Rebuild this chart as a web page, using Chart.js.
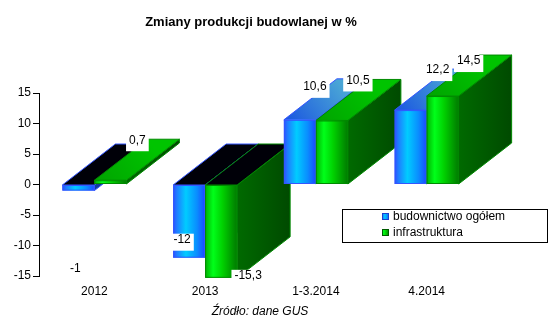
<!DOCTYPE html>
<html>
<head>
<meta charset="utf-8">
<script src="https://cdn.jsdelivr.net/npm/chart.js@4.4.1/dist/chart.umd.min.js"></script>
<style>
  html, body { margin: 0; padding: 0; background: #fff; }
  #wrap { width: 559px; height: 327px; }
</style>
</head>
<body>
<div id="wrap"><canvas id="produkcja_chart"></canvas></div>
<script>
"use strict";

const categories = ["2012", "2013", "1-3.2014", "4.2014"];
const seriesNames = ["budownictwo ogółem", "infrastruktura"];
const budownictwoValues = [-1, -12, 10.6, 12.2];
const infrastrukturaValues = [0.7, -15.3, 10.5, 14.5];
const yTicks = [-15, -10, -5, 0, 5, 10, 15];

// where each value label sits, measured from the end of its bar
const budownictwoLabelShift = [[-3, 78], [-7, -18], [15, -33], [27, -40]];
const infrastrukturaLabelShift = [[27, -40], [27, -2], [26, -40], [26, -35]];

const FONT = "'Liberation Sans', Arial, sans-serif";
const DEPTH_X = 53;
const DEPTH_Y = -41;

const blueLook = {
  front: [[0, "#2a50ff"], [0.12, "#1f7dff"], [0.4, "#00ccff"], [0.75, "#0a8cff"], [1, "#1a48ff"]],
  edge: "#3355ff",
  top: ["#1a55e0", "#4aa6d6"],
  side: ["#123c9c", "#0a2a70"],
};
const greenLook = {
  front: [[0, "#00b000"], [0.25, "#00ff1a"], [0.55, "#00d000"], [1, "#007a00"]],
  edge: "#008a00",
  top: ["#00a400", "#00c400"],
  side: ["#006a00", "#004a00"],
};

function fmt(v) {
  return String(v).replace(".", ",");
}

function barBox(bar) {
  const p = bar.getProps(["x", "y", "base", "width"], true);
  return {
    left: p.x - p.width / 2,
    right: p.x + p.width / 2,
    top: Math.min(p.y, p.base),
    bottom: Math.max(p.y, p.base),
  };
}

function quad(ctx, pts) {
  ctx.beginPath();
  ctx.moveTo(pts[0][0], pts[0][1]);
  for (let k = 1; k < pts.length; k++) ctx.lineTo(pts[k][0], pts[k][1]);
  ctx.closePath();
}

function drawBack(ctx, bar, value, look) {
  const b = barBox(bar);

  // right side face
  const sg = ctx.createLinearGradient(b.right, 0, b.right + DEPTH_X, 0);
  sg.addColorStop(0, look.side[0]);
  sg.addColorStop(1, look.side[1]);
  quad(ctx, [
    [b.right, b.top],
    [b.right + DEPTH_X, b.top + DEPTH_Y],
    [b.right + DEPTH_X, b.bottom + DEPTH_Y],
    [b.right, b.bottom],
  ]);
  ctx.fillStyle = sg;
  ctx.fill();
  ctx.strokeStyle = look.edge;
  ctx.lineWidth = 1;
  ctx.stroke();

  // top face; below zero it is the dark open end at the axis
  quad(ctx, [
    [b.left, b.top],
    [b.right, b.top],
    [b.right + DEPTH_X, b.top + DEPTH_Y],
    [b.left + DEPTH_X, b.top + DEPTH_Y],
  ]);
  if (value >= 0) {
    const tg = ctx.createLinearGradient(b.left, b.top, b.left + DEPTH_X, b.top + DEPTH_Y);
    tg.addColorStop(0, look.top[0]);
    tg.addColorStop(1, look.top[1]);
    ctx.fillStyle = tg;
  } else {
    ctx.fillStyle = "#000008";
  }
  ctx.fill();
  ctx.stroke();
}

function drawFront(ctx, bar, look) {
  const b = barBox(bar);
  const fg = ctx.createLinearGradient(b.left, 0, b.right, 0);
  look.front.forEach(([o, c]) => fg.addColorStop(o, c));
  ctx.fillStyle = fg;
  ctx.fillRect(b.left, b.top, b.right - b.left, b.bottom - b.top);
  ctx.strokeStyle = look.edge;
  ctx.lineWidth = 1;
  ctx.strokeRect(b.left + 0.5, b.top + 0.5, b.right - b.left - 1, b.bottom - b.top - 1);
}

const bar3dPlugin = {
  id: "bar3d",
  beforeDatasetsDraw(chart) {
    const ctx = chart.ctx;
    const metas = chart.data.datasets.map((ds, di) => chart.getDatasetMeta(di));
    ctx.save();
    categories.forEach((c, i) => {
      chart.data.datasets.forEach((ds, di) => {
        drawBack(ctx, metas[di].data[i], ds.data[i], ds.look);
      });
    });
    categories.forEach((c, i) => {
      chart.data.datasets.forEach((ds, di) => {
        drawFront(ctx, metas[di].data[i], ds.look);
      });
    });
    ctx.restore();
    return false;
  },
  afterDraw(chart) {
    const ctx = chart.ctx;
    ctx.save();

    ctx.fillStyle = "#000";
    ctx.textAlign = "center";
    ctx.textBaseline = "middle";
    ctx.font = "bold 13px " + FONT;
    ctx.fillText("Zmiany produkcji budowlanej w %", 251, 22);

    // value labels on white boxes
    ctx.font = "12px " + FONT;
    chart.data.datasets.forEach((ds, di) => {
      const meta = chart.getDatasetMeta(di);
      meta.data.forEach((bar, i) => {
        const text = fmt(ds.data[i]);
        const cx = bar.x + ds.labelShift[i][0];
        const cy = bar.y + ds.labelShift[i][1];
        const w = ctx.measureText(text).width;
        ctx.fillStyle = "#fff";
        ctx.fillRect(cx - w / 2 - 3, cy - 6, w + 6, 17);
        ctx.fillStyle = "#000";
        ctx.fillText(text, cx, cy);
      });
    });

    // legend box
    const lx = 342, ly = 209, lw = 205, lh = 33;
    ctx.fillStyle = "#fff";
    ctx.fillRect(lx, ly, lw, lh);
    ctx.strokeStyle = "#000";
    ctx.lineWidth = 1;
    ctx.strokeRect(lx + 0.5, ly + 0.5, lw, lh);
    ctx.textAlign = "left";
    chart.data.datasets.forEach((ds, di) => {
      const my = ly + 4 + di * 16;
      const g = ctx.createLinearGradient(lx + 40, 0, lx + 47, 0);
      ds.look.front.forEach(([o, c]) => g.addColorStop(o, c));
      ctx.fillStyle = g;
      ctx.fillRect(lx + 40, my, 7, 7);
      ctx.strokeStyle = di === 0 ? "#1a40d0" : "#005a00";
      ctx.strokeRect(lx + 40.5, my + 0.5, 6, 6);
      ctx.fillStyle = "#000";
      ctx.fillText(ds.label, lx + 51, my + 4);
    });

    // source line
    ctx.font = "italic 12px " + FONT;
    ctx.textAlign = "center";
    ctx.fillText("Źródło: dane GUS", 260, 312);
    ctx.restore();
  },
};

const produkcjaChartContext = document
  .getElementById("produkcja_chart")
  .getContext("2d");

const produkcjaChart = new Chart(produkcjaChartContext, {
  type: "bar",
  data: {
    labels: categories,
    datasets: [
      {
        label: seriesNames[0],
        data: budownictwoValues,
        look: blueLook,
        labelShift: budownictwoLabelShift,
        backgroundColor: "#00a0ff",
      },
      {
        label: seriesNames[1],
        data: infrastrukturaValues,
        look: greenLook,
        labelShift: infrastrukturaLabelShift,
        backgroundColor: "#00c000",
      },
    ],
  },
  options: {
    responsive: true,
    maintainAspectRatio: false,
    animation: false,
    devicePixelRatio: 1,
    layout: { padding: { left: 2, right: 77, top: 93, bottom: 24 } },
    datasets: {
      bar: { barPercentage: 1, categoryPercentage: 0.578 },
    },
    plugins: {
      legend: { display: false },
      tooltip: { enabled: false },
    },
    scales: {
      x: {
        grid: { display: false, drawTicks: false },
        border: { display: false },
        ticks: { color: "#000", padding: 8, font: { family: FONT, size: 12 } },
        afterFit(scale) {
          scale.height = 27;
        },
      },
      y: {
        min: -15,
        max: 15,
        border: { display: true, color: "#000", width: 1 },
        grid: {
          display: true,
          drawOnChartArea: false,
          drawTicks: true,
          tickLength: 6,
          color: "#000",
        },
        ticks: { color: "#000", padding: 2, font: { family: FONT, size: 12 } },
        afterBuildTicks(scale) {
          scale.ticks = yTicks.map((v) => ({ value: v }));
        },
        afterFit(scale) {
          scale.width = 37;
        },
      },
    },
  },
  plugins: [bar3dPlugin],
});
</script>
</body>
</html>
